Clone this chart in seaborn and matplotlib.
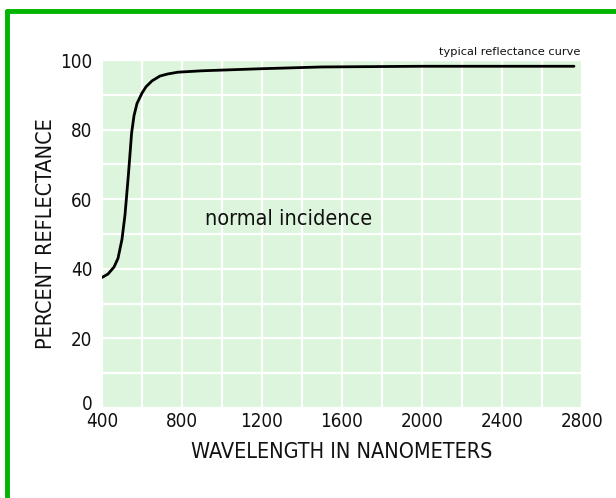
import numpy as np
import pandas as pd
import matplotlib
matplotlib.use("Agg")
import matplotlib.pyplot as plt
import matplotlib.transforms as mtransforms
import seaborn as sns
from matplotlib.lines import Line2D
from matplotlib import font_manager as fm

# Data
wavelength = [400, 430, 460, 480, 500, 515, 532, 548, 560, 575, 600, 620, 650, 690,
              730, 780, 900, 1000, 1200, 1500, 2000, 2760]
reflectance = [37.5, 38.5, 40.5, 43.0, 48.5, 55.5, 67.0, 79.0, 84.0, 87.5, 90.5, 92.3,
               94.0, 95.4, 96.0, 96.5, 96.9, 97.1, 97.5, 98.0, 98.2, 98.2]
x_ticks = [400, 800, 1200, 1600, 2000, 2400, 2800]
y_ticks = [0, 20, 40, 60, 80, 100]

df = pd.DataFrame({"wavelength": wavelength, "reflectance": reflectance})

sns.set_theme(style="white")
plt.rcParams['font.family'] = ['DejaVu Sans']

# pick a narrow font if available
narrow_path = None
for key in ["LiberationSansNarrow-Regular", "DejaVuSansCondensed.ttf"]:
    for f in fm.fontManager.ttflist:
        if key in f.fname:
            narrow_path = f.fname
            break
    if narrow_path:
        break


def fp(size):
    if narrow_path:
        return fm.FontProperties(fname=narrow_path, size=size)
    return fm.FontProperties(family="DejaVu Sans", size=size * 0.8)


fig = plt.figure(figsize=(6.16, 4.98), dpi=100)
ax = fig.add_axes([102/616, 1 - 408/498, 480/616, 348/498])
ax.set_facecolor("#dcf5dc")

sns.lineplot(data=df, x="wavelength", y="reflectance", ax=ax, color="black",
             linewidth=2.0, sort=True, estimator=None)

ax.set_xlim(400, 2800)
ax.set_ylim(0, 100)
ax.set_xticks(x_ticks)
ax.set_yticks(y_ticks)
ax.set_xticks(np.arange(400, 2801, 200), minor=True)
ax.set_yticks(np.arange(0, 101, 10), minor=True)
ax.grid(which="both", color="white", linewidth=1.6)
ax.set_axisbelow(True)
ax.tick_params(which="both", length=0, colors="#111111")
ax.tick_params(axis="x", pad=3)
ax.tick_params(axis="y", pad=7)
for lbl in ax.get_xticklabels() + ax.get_yticklabels():
    lbl.set_fontproperties(fp(13.5))
for s in ax.spines.values():
    s.set_visible(False)

# lift the "0" label slightly, as in the reference
zero_lbl = ax.get_yticklabels()[0]
zero_lbl.set_transform(zero_lbl.get_transform() +
                       mtransforms.ScaledTranslation(0, 4/72, fig.dpi_scale_trans))

ax.set_xlabel("WAVELENGTH IN NANOMETERS", fontproperties=fp(15.5), color="#111111", labelpad=8)
ax.set_ylabel("PERCENT REFLECTANCE", fontproperties=fp(15.5), color="#111111", labelpad=3)

ax.text(915, 54.3, "normal incidence", fontproperties=fp(15.5), color="#111111",
        ha="left", va="center")
ax.text(2790, 101, "typical reflectance curve", fontsize=8.2, color="#111111",
        ha="right", va="bottom", clip_on=False)

# green frame (top and left edges visible)
fig.add_artist(Line2D([6.5/616, 6.5/616], [0, 1 - 11.5/498], transform=fig.transFigure,
                      color="#00b400", linewidth=3.5))
fig.add_artist(Line2D([6.5/616, 1], [1 - 11.5/498, 1 - 11.5/498], transform=fig.transFigure,
                      color="#00b400", linewidth=3.5))

fig.savefig("out.png", dpi=100)
